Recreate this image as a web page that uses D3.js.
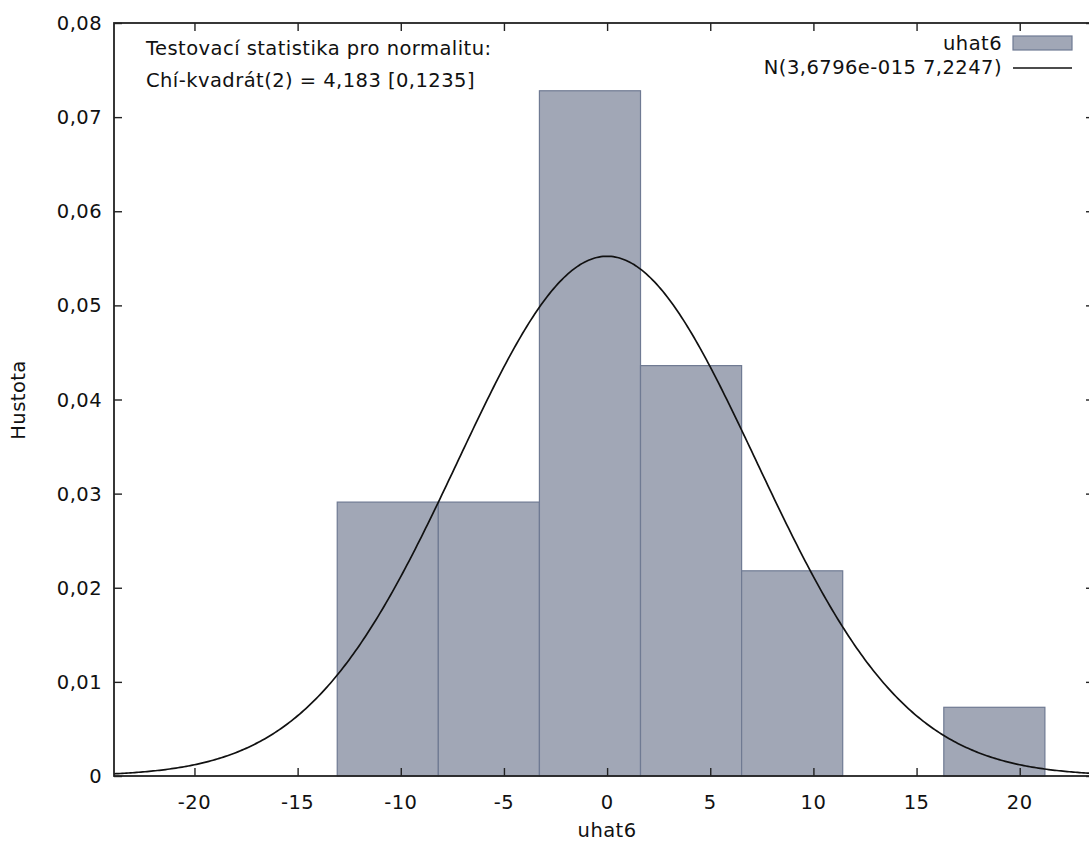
<!DOCTYPE html>
<html>
<head>
<meta charset="utf-8">
<script src="https://cdn.jsdelivr.net/npm/d3@7"></script>
<style>
  body { margin: 0; background: #fff; }
  text { font-family: "DejaVu Sans", Verdana, sans-serif; fill: #111; letter-spacing: 0.45px; }
</style>
</head>
<body>
<div id="chart"></div>
<script>
// histogram bins of uhat6 (edges) and density heights
var binEdges = [-13.08, -8.18, -3.28, 1.62, 6.52, 11.42, 16.32, 21.22];
var density = [0.0291, 0.0291, 0.0728, 0.0436, 0.0218, 0, 0.0073];
var xTicks = [-20, -15, -10, -5, 0, 5, 10, 15, 20];
var yTicks = [0, 0.01, 0.02, 0.03, 0.04, 0.05, 0.06, 0.07, 0.08];
var normMean = 3.6796e-15;
var normSd = 7.2247;
var statLines = ["Testovací statistika pro normalitu:", "Chí-kvadrát(2) = 4,183 [0,1235]"];
var legendLabels = ["uhat6", "N(3,6796e-015 7,2247)"];

var width = 1089, height = 844;
var mLeft = 114, mRight = 1094, mTop = 23, mBottom = 776;
var fontSize = "19.5px";

var svg = d3.select("#chart").append("svg")
    .attr("width", width)
    .attr("height", height);

var xScale = d3.scaleLinear().domain([-23.9, 23.6]).range([mLeft, mRight]);
var yScale = d3.scaleLinear().domain([0, 0.08]).range([mBottom, mTop]);

var fmt = function (d) {
    return d === 0 ? "0" : d3.format(".2f")(d).replace(".", ",");
};

// bars
var bins = density.map(function (d, i) {
    return { x0: binEdges[i], x1: binEdges[i + 1], v: d };
}).filter(function (b) { return b.v > 0; });

svg.selectAll("rect.bar")
    .data(bins)
    .enter()
    .append("rect")
    .attr("class", "bar")
    .attr("x", function (d) { return xScale(d.x0); })
    .attr("y", function (d) { return yScale(d.v); })
    .attr("width", function (d) { return xScale(d.x1) - xScale(d.x0); })
    .attr("height", function (d) { return yScale(0) - yScale(d.v); })
    .attr("fill", "#a1a7b6")
    .attr("stroke", "#6f7a93")
    .attr("stroke-width", 1.2);

// normal density curve
var pdf = function (x) {
    var z = (x - normMean) / normSd;
    return Math.exp(-0.5 * z * z) / (normSd * Math.sqrt(2 * Math.PI));
};
var xs = d3.range(-23.9, 23.61, 0.1);
var line = d3.line()
    .x(function (d) { return xScale(d); })
    .y(function (d) { return yScale(pdf(d)); });

svg.append("path")
    .datum(xs)
    .attr("d", line)
    .attr("fill", "none")
    .attr("stroke", "#111")
    .attr("stroke-width", 1.7);

// frame
svg.append("rect")
    .attr("x", mLeft)
    .attr("y", mTop)
    .attr("width", mRight - mLeft)
    .attr("height", mBottom - mTop)
    .attr("fill", "none")
    .attr("stroke", "#222")
    .attr("stroke-width", 1.8);

// ticks (inward, on all four sides)
var tickLen = 8;
svg.append("g")
    .attr("transform", "translate(0," + mBottom + ")")
    .call(d3.axisTop(xScale).tickValues(xTicks).tickSize(tickLen).tickFormat(""))
    .call(function (g) { g.select(".domain").remove(); });
svg.append("g")
    .attr("transform", "translate(0," + mTop + ")")
    .call(d3.axisBottom(xScale).tickValues(xTicks).tickSize(tickLen).tickFormat(""))
    .call(function (g) { g.select(".domain").remove(); });
svg.append("g")
    .attr("transform", "translate(" + mLeft + ",0)")
    .call(d3.axisRight(yScale).tickValues(yTicks).tickSize(tickLen).tickFormat(""))
    .call(function (g) { g.select(".domain").remove(); });
svg.append("g")
    .attr("transform", "translate(" + mRight + ",0)")
    .call(d3.axisLeft(yScale).tickValues(yTicks).tickSize(tickLen).tickFormat(""))
    .call(function (g) { g.select(".domain").remove(); });
svg.selectAll(".tick line").attr("stroke", "#222").attr("stroke-width", 1.4);

// tick labels
svg.selectAll("text.xlab")
    .data(xTicks)
    .enter()
    .append("text")
    .attr("class", "xlab")
    .attr("x", function (d) { return xScale(d); })
    .attr("y", mBottom + 33)
    .attr("text-anchor", "middle")
    .attr("font-size", fontSize)
    .text(function (d) { return d; });

svg.selectAll("text.ylab")
    .data(yTicks)
    .enter()
    .append("text")
    .attr("class", "ylab")
    .attr("x", mLeft - 12)
    .attr("y", function (d) { return yScale(d) + 7; })
    .attr("text-anchor", "end")
    .attr("font-size", fontSize)
    .text(fmt);

// axis titles
svg.append("text")
    .attr("x", xScale(0))
    .attr("y", 837)
    .attr("text-anchor", "middle")
    .attr("font-size", fontSize)
    .text("uhat6");

svg.append("text")
    .attr("transform", "translate(25,400) rotate(-90)")
    .attr("text-anchor", "middle")
    .attr("font-size", fontSize)
    .text("Hustota");

// test statistic text
svg.selectAll("text.stat")
    .data(statLines)
    .enter()
    .append("text")
    .attr("class", "stat")
    .attr("x", 146)
    .attr("y", function (d, i) { return 55 + i * 32; })
    .attr("font-size", fontSize)
    .text(function (d) { return d; });

// legend
svg.selectAll("text.leg")
    .data(legendLabels)
    .enter()
    .append("text")
    .attr("class", "leg")
    .attr("x", 1002)
    .attr("y", function (d, i) { return 50 + i * 24; })
    .attr("text-anchor", "end")
    .attr("font-size", fontSize)
    .text(function (d) { return d; });

svg.append("rect")
    .attr("x", 1013)
    .attr("y", 36)
    .attr("width", 59)
    .attr("height", 14)
    .attr("fill", "#a1a7b6")
    .attr("stroke", "#6f7a93")
    .attr("stroke-width", 1.2);

svg.append("line")
    .attr("x1", 1013)
    .attr("x2", 1072)
    .attr("y1", 68)
    .attr("y2", 68)
    .attr("stroke", "#111")
    .attr("stroke-width", 1.7);
</script>
</body>
</html>
